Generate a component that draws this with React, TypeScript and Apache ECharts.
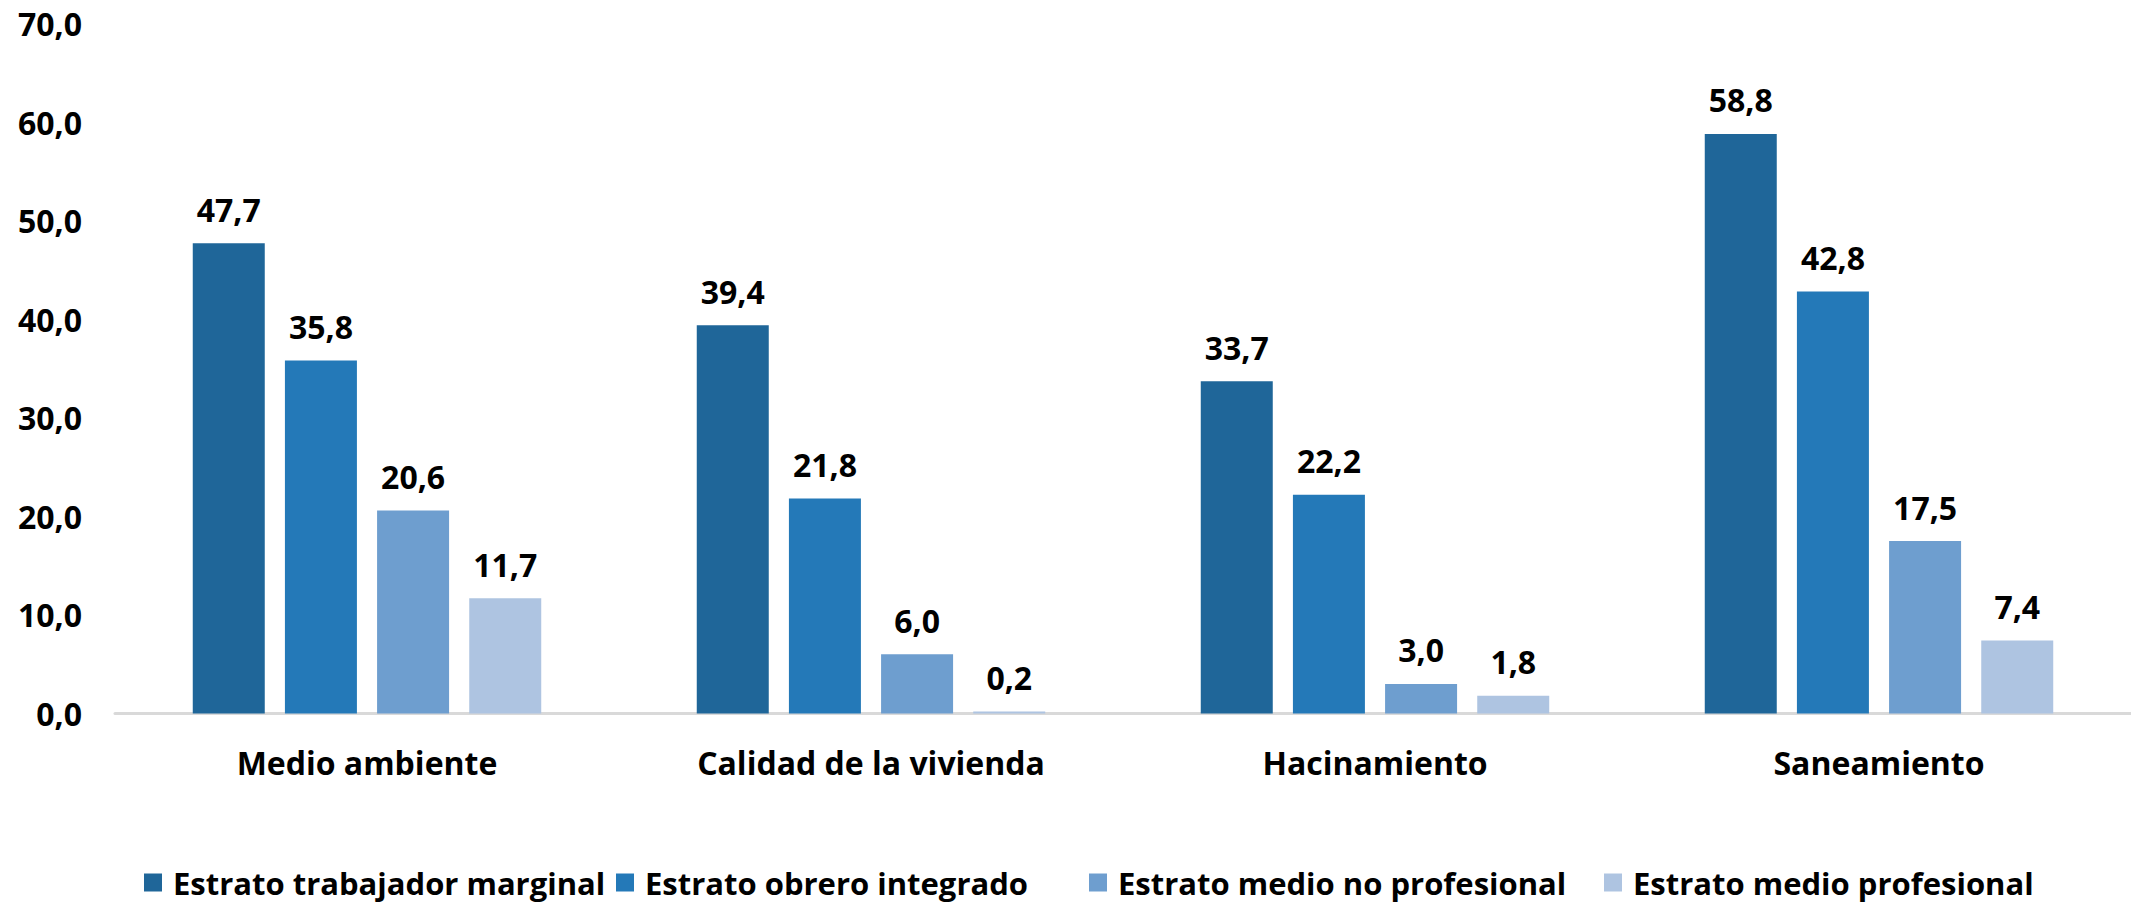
import React, { useEffect, useRef } from "react";
import * as echarts from "echarts";

const categories = ["Medio ambiente", "Calidad de la vivienda", "Hacinamiento", "Saneamiento"];
const seriesNames = [
  "Estrato trabajador marginal",
  "Estrato obrero integrado",
  "Estrato medio no profesional",
  "Estrato medio profesional",
];
const marginal = [47.7, 39.4, 33.7, 58.8];
const obrero = [35.8, 21.8, 22.2, 42.8];
const medioNoProf = [20.6, 6.0, 3.0, 17.5];
const medioProf = [11.7, 0.2, 1.8, 7.4];
const colors = ["#1F6699", "#2479B8", "#6E9ECF", "#AEC4E1"];
const legendLefts = [139, 611, 1084, 1599];

const FONT = "'Open Sans', 'Noto Sans', sans-serif";
const fmt = (v: number) => v.toFixed(1).replace(".", ",");

export default function App() {
  const ref = useRef<HTMLDivElement>(null);
  useEffect(() => {
    if (!ref.current) return;
    const chart = echarts.init(ref.current, undefined, { renderer: "svg" });
    const data = [marginal, obrero, medioNoProf, medioProf];
    chart.setOption({
      animation: false,
      backgroundColor: "#ffffff",
      color: colors,
      grid: { left: 115, right: 0, top: 23.5, bottom: 904 - 713.5, containLabel: false },
      legend: seriesNames.map((name, i) => ({
        left: legendLefts[i],
        top: 862,
        itemWidth: 18,
        itemHeight: 18,
        icon: "rect",
        data: [name],
        textStyle: {
          fontFamily: FONT,
          fontWeight: "bold",
          fontSize: 31,
          color: "#000",
          padding: [0, 0, 0, 6],
        },
      })),
      xAxis: {
        type: "category",
        data: categories,
        axisTick: { show: false },
        axisLine: { show: true, lineStyle: { color: "#D9D9D9", width: 3 } },
        axisLabel: {
          margin: 33,
          fontFamily: FONT,
          fontWeight: "bold",
          fontSize: 32,
          color: "#000",
        },
      },
      yAxis: {
        type: "value",
        min: 0,
        max: 70,
        interval: 10,
        splitLine: { show: false },
        axisLine: { show: false },
        axisTick: { show: false },
        axisLabel: {
          margin: 33,
          fontFamily: FONT,
          fontWeight: "bold",
          fontSize: 32,
          color: "#000",
          formatter: (v: number) => fmt(v),
        },
      },
      series: seriesNames.map((name, i) => ({
        name,
        type: "bar",
        data: data[i],
        barWidth: 72,
        barGap: "28%",
        itemStyle: { color: colors[i] },
        label: {
          show: true,
          position: "top",
          distance: 18,
          fontFamily: FONT,
          fontWeight: "bold",
          fontSize: 32,
          color: "#000",
          formatter: (p: any) => fmt(p.value),
        },
      })),
    });
    return () => chart.dispose();
  }, []);
  return (
    <div
      ref={ref}
      style={{ position: "absolute", left: 0, top: 0, width: 2131, height: 904 }}
    />
  );
}
